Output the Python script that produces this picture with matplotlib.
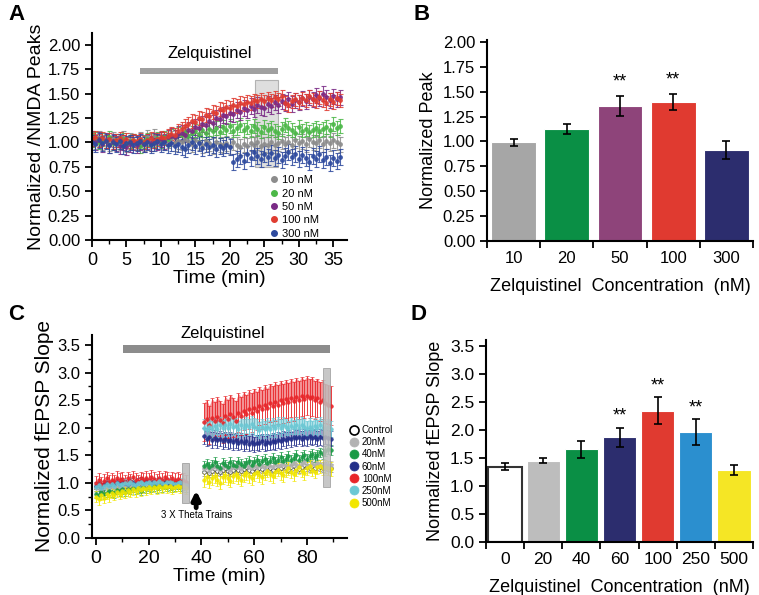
import matplotlib
matplotlib.use("Agg")
import matplotlib.pyplot as plt
import numpy as np
from matplotlib.lines import Line2D
from matplotlib.patches import Rectangle

plt.rcParams['font.family'] = ['Liberation Sans', 'DejaVu Sans']

# ---------------- data ----------------
# panel A: NMDA peaks every 0.5 min, 0..36 min
a_labels = ['10 nM', '20 nM', '50 nM', '100 nM', '300 nM']
a_10 = [1.03, 1.01, 1.04, 1.00, 1.02, 0.99, 1.03, 1.01, 1.00, 1.04, 0.98, 1.02, 1.01,
        1.00, 1.03, 0.99, 1.05, 1.02, 1.06, 1.01, 1.03, 1.00, 1.02, 1.04, 0.99, 1.01,
        1.00, 1.03, 1.01, 0.98, 1.02, 1.00, 0.97, 1.01, 0.99, 0.96, 1.00, 0.98, 0.97,
        0.99, 0.96, 1.00, 0.97, 0.95, 0.98, 0.96, 0.99, 0.97, 1.00, 0.96, 0.98, 0.97,
        1.00, 0.97, 0.99, 1.01, 0.98, 1.00, 0.97, 1.02, 0.99, 1.01, 0.98, 1.03, 1.00,
        0.99, 1.02, 0.98, 1.01, 0.99, 1.02, 1.00, 0.98]
a_20 = [1.02, 1.04, 1.00, 1.03, 1.01, 1.05, 0.99, 1.02, 1.00, 1.03, 0.98, 1.01, 1.02,
        0.99, 0.96, 1.01, 1.03, 0.98, 1.02, 1.04, 1.01, 1.05, 1.03, 1.07, 1.06, 1.09,
        1.08, 1.11, 1.07, 1.10, 1.12, 1.09, 1.13, 1.10, 1.14, 1.12, 1.15, 1.11, 1.16,
        1.13, 1.17, 1.12, 1.15, 1.18, 1.13, 1.16, 1.12, 1.17, 1.14, 1.11, 1.16, 1.13,
        1.15, 1.12, 1.10, 1.14, 1.18, 1.15, 1.13, 1.10, 1.16, 1.12, 1.14, 1.11, 1.13,
        1.15, 1.12, 1.14, 1.16, 1.13, 1.19, 1.15, 1.17]
a_50 = [1.04, 1.00, 1.03, 0.98, 1.02, 0.97, 1.01, 0.99, 0.96, 1.00, 0.95, 0.98, 1.00,
        0.97, 1.00, 0.98, 1.01, 0.99, 1.02, 1.00, 1.03, 1.01, 1.05, 1.07, 1.05, 1.09,
        1.10, 1.08, 1.13, 1.12, 1.16, 1.15, 1.19, 1.18, 1.22, 1.20, 1.25, 1.24, 1.28,
        1.27, 1.30, 1.29, 1.33, 1.31, 1.35, 1.33, 1.37, 1.34, 1.38, 1.36, 1.35, 1.39,
        1.37, 1.41, 1.38, 1.42, 1.40, 1.44, 1.39, 1.43, 1.41, 1.45, 1.42, 1.46, 1.44,
        1.48, 1.45, 1.50, 1.46, 1.43, 1.47, 1.44, 1.46]
a_100 = [1.03, 1.05, 1.02, 1.04, 1.01, 1.03, 1.00, 1.02, 1.04, 1.01, 1.03, 1.00, 1.02,
         1.01, 1.03, 1.00, 1.02, 1.04, 1.01, 1.03, 1.05, 1.04, 1.07, 1.09, 1.08, 1.12,
         1.14, 1.17, 1.19, 1.22, 1.21, 1.25, 1.24, 1.28, 1.27, 1.31, 1.30, 1.34, 1.33,
         1.36, 1.35, 1.38, 1.37, 1.40, 1.39, 1.41, 1.40, 1.43, 1.42, 1.44, 1.42, 1.45,
         1.43, 1.46, 1.44, 1.47, 1.40, 1.38, 1.42, 1.44, 1.41, 1.45, 1.43, 1.47, 1.44,
         1.42, 1.46, 1.43, 1.40, 1.44, 1.41, 1.45, 1.43]
a_300 = [1.00, 0.98, 1.02, 0.99, 1.01, 0.97, 1.00, 0.98, 1.01, 0.96, 0.99, 1.00, 0.97,
         0.99, 1.01, 0.98, 1.00, 0.97, 0.99, 1.01, 0.98, 1.00, 0.97, 0.99, 0.96, 0.98,
         0.95, 0.93, 0.97, 1.00, 0.96, 0.99, 0.94, 0.98, 0.95, 0.97, 0.93, 0.96, 0.94,
         0.97, 0.95, 0.80, 0.83, 0.86, 0.81, 0.88, 0.84, 0.90, 0.86, 0.83, 0.88, 0.85,
         0.89, 0.84, 0.87, 0.82, 0.86, 0.90, 0.85, 0.88, 0.83, 0.87, 0.84, 0.80, 0.86,
         0.83, 0.88, 0.82, 0.85, 0.79, 0.84, 0.81, 0.85]
a_sem = [0.08, 0.07, 0.08, 0.07, 0.08]
a_colors = ['#8c8c8c', '#4cb848', '#7a2a86', '#e03c31', '#2e4a9e']

# panel B
b_conc = ['10', '20', '50', '100', '300']
b_mean = [0.99, 1.13, 1.36, 1.40, 0.91]
b_err = [0.04, 0.05, 0.10, 0.08, 0.09]
b_sig = ['', '', '**', '**', '']
b_colors = ['#a6a6a6', '#0a8f45', '#8e447a', '#e03a30', '#2c2d6e']

# panel C: fEPSP slope, baseline 0..34 min and after theta trains 41..89 min
c_labels = ['Control', '20nM', '40nM', '60nM', '100nM', '250nM', '500nM']
c_pre = {
    'Control': [0.92, 0.95, 0.90, 0.94, 0.97, 0.93, 0.96, 0.94, 0.98, 0.95, 0.97, 0.99, 0.96, 1.00, 0.97,
                0.95, 0.98, 1.00, 0.96, 0.99, 1.01, 0.97, 1.00, 0.98, 1.02, 0.99, 0.97, 1.00, 1.01, 0.98,
                0.96, 0.99, 1.00, 0.97, 0.95],
    '20nM': [0.90, 0.93, 0.88, 0.92, 0.95, 0.91, 0.94, 0.92, 0.96, 0.93, 0.95, 0.97, 0.94, 0.98, 0.95,
             0.93, 0.97, 0.99, 0.95, 0.98, 1.00, 0.96, 0.99, 0.97, 1.01, 0.98, 0.96, 0.99, 1.00, 0.97,
             0.95, 0.98, 0.99, 0.96, 0.94],
    '40nM': [0.80, 0.78, 0.84, 0.79, 0.82, 0.86, 0.83, 0.81, 0.87, 0.85, 0.88, 0.84, 0.89, 0.87, 0.91,
             0.88, 0.90, 0.86, 0.92, 0.89, 0.93, 0.91, 0.94, 0.90, 0.95, 0.92, 0.96, 0.93, 0.95, 0.91,
             0.94, 0.96, 0.93, 0.95, 0.92],
    '60nM': [0.95, 0.98, 0.93, 0.97, 1.00, 0.96, 0.99, 0.97, 1.01, 0.98, 1.02, 1.00, 0.97, 1.03, 1.00,
             0.98, 1.02, 1.04, 1.00, 1.03, 1.01, 0.99, 1.03, 1.00, 1.02, 0.99, 1.01, 0.98, 1.00, 0.97,
             0.99, 1.01, 0.98, 0.96, 0.97],
    '100nM': [1.00, 1.05, 0.98, 1.04, 1.08, 1.02, 1.06, 1.03, 1.09, 1.05, 1.07, 1.02, 1.08, 1.04, 1.10,
              1.06, 1.03, 1.08, 1.05, 1.09, 1.06, 1.11, 1.07, 1.04, 1.09, 1.06, 1.10, 1.07, 1.03, 1.08,
              1.05, 1.07, 1.04, 1.06, 1.02],
    '250nM': [0.93, 0.96, 0.91, 0.95, 0.98, 0.94, 0.97, 0.95, 0.99, 0.96, 0.98, 1.00, 0.97, 1.01, 0.98,
              0.96, 0.99, 1.01, 0.97, 1.00, 1.02, 0.98, 1.01, 0.99, 1.03, 1.00, 0.98, 1.01, 1.02, 0.99,
              0.97, 1.00, 1.01, 0.98, 0.96],
    '500nM': [0.75, 0.70, 0.78, 0.73, 0.80, 0.76, 0.82, 0.78, 0.84, 0.80, 0.85, 0.82, 0.87, 0.84, 0.88,
              0.85, 0.90, 0.87, 0.91, 0.88, 0.92, 0.89, 0.93, 0.90, 0.94, 0.91, 0.95, 0.92, 0.94, 0.90,
              0.93, 0.95, 0.92, 0.94, 0.90],
}
c_post = {
    'Control': [1.20, 1.24, 1.18, 1.22, 1.25, 1.21, 1.19, 1.23, 1.26, 1.22, 1.20, 1.24, 1.27, 1.23, 1.21,
                1.25, 1.28, 1.24, 1.22, 1.26, 1.23, 1.27, 1.25, 1.22, 1.28, 1.26, 1.24, 1.29, 1.25, 1.27,
                1.30, 1.26, 1.24, 1.28, 1.31, 1.27, 1.25, 1.29, 1.32, 1.28, 1.26, 1.30, 1.27, 1.31, 1.29,
                1.26, 1.30, 1.28, 1.27],
    '20nM': [1.25, 1.28, 1.22, 1.27, 1.30, 1.26, 1.23, 1.28, 1.31, 1.27, 1.24, 1.29, 1.32, 1.28, 1.25,
             1.30, 1.33, 1.29, 1.26, 1.31, 1.28, 1.32, 1.30, 1.27, 1.33, 1.31, 1.29, 1.34, 1.30, 1.32,
             1.35, 1.31, 1.29, 1.33, 1.36, 1.32, 1.30, 1.34, 1.37, 1.33, 1.31, 1.35, 1.32, 1.36, 1.34,
             1.31, 1.35, 1.33, 1.32],
    '40nM': [1.30, 1.35, 1.28, 1.33, 1.38, 1.31, 1.27, 1.36, 1.32, 1.29, 1.37, 1.33, 1.30, 1.38, 1.34,
             1.31, 1.36, 1.40, 1.33, 1.37, 1.42, 1.35, 1.39, 1.44, 1.36, 1.40, 1.45, 1.38, 1.42, 1.47,
             1.39, 1.43, 1.48, 1.41, 1.45, 1.50, 1.42, 1.46, 1.51, 1.44, 1.48, 1.53, 1.47, 1.51, 1.55,
             1.52, 1.58, 1.62, 1.60],
    '60nM': [1.85, 1.80, 1.83, 1.78, 1.82, 1.77, 1.80, 1.76, 1.79, 1.75, 1.78, 1.74, 1.77, 1.73, 1.76,
             1.72, 1.75, 1.71, 1.74, 1.70, 1.73, 1.72, 1.75, 1.71, 1.74, 1.73, 1.76, 1.74, 1.78, 1.76,
             1.80, 1.78, 1.82, 1.79, 1.83, 1.81, 1.84, 1.80, 1.83, 1.81, 1.85, 1.82, 1.84, 1.80, 1.83,
             1.81, 1.84, 1.82, 1.80],
    '100nM': [2.10, 2.15, 2.05, 2.18, 2.12, 2.20, 2.14, 2.08, 2.22, 2.16, 2.25, 2.19, 2.13, 2.27, 2.21,
              2.30, 2.24, 2.33, 2.27, 2.36, 2.30, 2.39, 2.33, 2.42, 2.36, 2.45, 2.40, 2.47, 2.42, 2.50,
              2.44, 2.52, 2.46, 2.54, 2.48, 2.55, 2.50, 2.57, 2.52, 2.58, 2.53, 2.56, 2.50, 2.54, 2.47,
              2.51, 2.44, 2.42, 2.40],
    '250nM': [2.00, 1.95, 2.02, 1.97, 2.03, 1.98, 2.04, 1.99, 2.05, 2.00, 2.06, 2.01, 2.03, 1.98, 2.04,
              2.00, 2.05, 2.01, 2.06, 2.02, 2.00, 1.96, 2.01, 1.97, 2.02, 1.98, 2.03, 1.99, 2.04, 2.00,
              2.05, 2.01, 1.98, 2.03, 1.99, 2.04, 2.00, 2.05, 2.01, 1.97, 2.02, 1.98, 2.03, 1.99, 2.04,
              2.00, 1.97, 2.01, 1.98],
    '500nM': [1.05, 1.10, 1.02, 1.08, 1.12, 1.06, 1.00, 1.10, 1.14, 1.08, 1.04, 1.12, 1.16, 1.10, 1.06,
              1.14, 1.18, 1.12, 1.08, 1.16, 1.20, 1.14, 1.10, 1.18, 1.22, 1.16, 1.12, 1.20, 1.24, 1.18,
              1.14, 1.22, 1.26, 1.20, 1.16, 1.24, 1.28, 1.22, 1.18, 1.26, 1.30, 1.24, 1.20, 1.28, 1.30,
              1.26, 1.29, 1.27, 1.25],
}
c_sem_pre = [0.06, 0.06, 0.08, 0.06, 0.12, 0.07, 0.10]
c_sem_post = [0.07, 0.07, 0.09, 0.14, 0.35, 0.15, 0.12]
c_colors = ['white', '#b3b3b3', '#1a9a45', '#24308a', '#e8262a', '#6cc8d4', '#f2e600']

# panel D
d_conc = ['0', '20', '40', '60', '100', '250', '500']
d_mean = [1.34, 1.45, 1.65, 1.87, 2.34, 1.96, 1.29]
d_err = [0.06, 0.05, 0.15, 0.17, 0.24, 0.23, 0.09]
d_sig = ['', '', '', '**', '**', '**', '']
d_colors = ['white', '#bdbdbd', '#0a8f45', '#2c2d6e', '#e03a30', '#2b8fcf', '#f5e625']

W, H = 759, 595
fig = plt.figure(figsize=(W / 100, H / 100), dpi=100)


def px_axes(left, right, top, bottom):
    return fig.add_axes([left / W, (H - bottom) / H, (right - left) / W, (bottom - top) / H])


def style(ax, xsize, ysize):
    for s in ['top', 'right']:
        ax.spines[s].set_visible(False)
    for s in ['left', 'bottom']:
        ax.spines[s].set_linewidth(1.5)
    ax.tick_params(which='major', direction='out', length=5, width=1.3)
    ax.tick_params(which='minor', direction='out', length=3, width=1.0)
    ax.tick_params(axis='x', labelsize=xsize)
    ax.tick_params(axis='y', labelsize=ysize)


# ---------------- A ----------------
axA = px_axes(92, 347, 33, 240)
a_series = [a_10, a_20, a_50, a_100, a_300]
for vals, sem, col in zip(a_series, a_sem, a_colors):
    t = np.arange(len(vals)) * 0.5
    axA.errorbar(t, vals, yerr=sem, fmt='o', ms=2.5, color=col, ecolor=col,
                 elinewidth=0.8, capsize=1.8, capthick=0.8, alpha=0.85, zorder=2)
axA.add_patch(Rectangle((23.7, 0.75), 3.3, 0.89, facecolor='#d9d9d9', edgecolor='#a8a8a8',
                        lw=0.8, alpha=0.85, zorder=1))
axA.add_patch(Rectangle((7.0, 1.70), 20.0, 0.06, facecolor='#a0a0a0', edgecolor='none', clip_on=False))
axA.text(17.1, 1.83, 'Zelquistinel', ha='center', va='bottom', fontsize=12)
axA.set_xlim(0, 37)
axA.set_ylim(0, 2.12)
axA.set_xticks(np.arange(0, 36, 5))
axA.set_xticks(np.arange(2.5, 37, 5), minor=True)
axA.set_yticks(np.arange(0, 2.01, 0.25))
axA.yaxis.set_major_formatter(matplotlib.ticker.FormatStrFormatter('%.2f'))
axA.set_xlabel('Time (min)', fontsize=14, labelpad=1)
axA.set_ylabel('Normalized /NMDA Peaks', fontsize=14, labelpad=2)
style(axA, 13, 12)
a_handles = [Line2D([], [], ls='none', marker='o', ms=4, mfc=c, mec=c) for c in a_colors]
axA.legend(a_handles, a_labels, loc='lower left', bbox_to_anchor=(0.67, -0.02), frameon=False,
           fontsize=8, handletextpad=0.2, labelspacing=0.3, borderpad=0, handlelength=1.0)

# ---------------- B ----------------
axB = px_axes(487, 753, 40, 241)
xb = np.arange(len(b_conc))
axB.bar(xb, b_mean, width=0.84, color=b_colors, edgecolor='white', lw=0.8)
axB.errorbar(xb, b_mean, yerr=b_err, fmt='none', ecolor='black', elinewidth=1.2, capsize=3, capthick=1.2)
for x, m, e, s in zip(xb, b_mean, b_err, b_sig):
    if s:
        axB.text(x, m + e + 0.05, s, ha='center', va='bottom', fontsize=13)
axB.set_xlim(-0.5, len(b_conc) - 0.5)
axB.set_ylim(0, 2.02)
axB.set_yticks(np.arange(0, 2.01, 0.25))
axB.yaxis.set_major_formatter(matplotlib.ticker.FormatStrFormatter('%.2f'))
axB.set_xticks(xb)
axB.set_xticklabels(b_conc)
axB.set_xticks(np.arange(-0.5, len(b_conc), 1), minor=True)
style(axB, 12, 12)
axB.tick_params(axis='x', which='major', length=0, pad=7)
axB.tick_params(axis='x', which='minor', length=5, width=1.3)
axB.set_ylabel('Normalized Peak', fontsize=13)
axB.set_xlabel('Zelquistinel  Concentration  (nM)', fontsize=13, labelpad=9)

# ---------------- C ----------------
axC = px_axes(92, 347, 335, 538)
fill_alpha = {'60nM': 0.45, '100nM': 0.5, '250nM': 0.55}
for lab, col, sp, sq in zip(c_labels, c_colors, c_sem_pre, c_sem_post):
    pre = np.array(c_pre[lab])
    post = np.array(c_post[lab])
    tpre = np.arange(len(pre))
    tpost = 41 + np.arange(len(post))
    if lab in fill_alpha:
        axC.fill_between(tpost, post, post + sq, color=col, alpha=fill_alpha[lab], lw=0, zorder=1)
    ec = '#333333' if lab == 'Control' else col
    ecol = '#777777' if lab == 'Control' else col
    for t, v, e in [(tpre, pre, sp), (tpost, post, sq)]:
        axC.errorbar(t, v, yerr=e, fmt='o', ms=2.6, mfc=col, mec=ec, mew=0.5, ecolor=ecol,
                     elinewidth=0.7, capsize=1.5, capthick=0.7, alpha=0.9, zorder=2)
axC.add_patch(Rectangle((32.5, 0.64), 2.7, 0.72, facecolor='#bdbdbd', edgecolor='#9a9a9a',
                        lw=0.6, alpha=0.9, zorder=3))
axC.add_patch(Rectangle((86.0, 0.93), 2.7, 2.16, facecolor='#bdbdbd', edgecolor='#9a9a9a',
                        lw=0.6, alpha=0.85, zorder=3))
axC.add_patch(Rectangle((10.2, 3.36), 78.4, 0.14, facecolor='#8c8c8c', edgecolor='none', clip_on=False))
axC.text(48, 3.58, 'Zelquistinel', ha='center', va='bottom', fontsize=12)
axC.annotate('', xy=(38, 0.86), xytext=(38, 0.55),
             arrowprops=dict(arrowstyle='-|>', color='black', lw=3.5, mutation_scale=12,
                             shrinkA=0, shrinkB=0))
axC.text(38, 0.42, '3 X Theta Trains', ha='center', va='center', fontsize=7)
axC.set_xlim(-1.5, 95.2)
axC.set_ylim(0, 3.68)
axC.set_xticks([0, 20, 40, 60, 80])
axC.set_xticks([10, 30, 50, 70, 90], minor=True)
axC.set_yticks(np.arange(0, 3.51, 0.5))
axC.set_yticks(np.arange(0.25, 3.6, 0.5), minor=True)
axC.set_xlabel('Time (min)', fontsize=14, labelpad=1)
axC.set_ylabel('Normalized fEPSP Slope', fontsize=15, labelpad=2)
style(axC, 14, 12)
c_handles = [Line2D([], [], ls='none', marker='o', ms=6.5, mfc=c, mec='black' if c == 'white' else c,
                    mew=1.2 if c == 'white' else 0.5) for c in c_colors]
axC.legend(c_handles, c_labels, loc='upper left', bbox_to_anchor=(0.99, 0.58), frameon=False,
           fontsize=7, handletextpad=0.3, labelspacing=0.22, borderpad=0, handlelength=1.0)

# ---------------- D ----------------
axD = px_axes(486, 753, 340, 542)
xd = np.arange(len(d_conc))
axD.bar(xd, d_mean, width=0.87, color=d_colors,
        edgecolor=['#333333'] + ['white'] * (len(d_conc) - 1), lw=[1.5] + [0.8] * (len(d_conc) - 1))
axD.errorbar(xd, d_mean, yerr=d_err, fmt='none', ecolor='black', elinewidth=1.2, capsize=3, capthick=1.2)
for x, m, e, s in zip(xd, d_mean, d_err, d_sig):
    if s:
        axD.text(x, m + e + 0.05, s, ha='center', va='bottom', fontsize=13)
axD.set_xlim(-0.5, len(d_conc) - 0.5)
axD.set_ylim(0, 3.6)
axD.set_yticks(np.arange(0, 3.51, 0.5))
axD.set_xticks(xd)
axD.set_xticklabels(d_conc)
axD.set_xticks(np.arange(-0.5, len(d_conc), 1), minor=True)
style(axD, 12.5, 12.5)
axD.tick_params(axis='x', which='major', length=0, pad=7)
axD.tick_params(axis='x', which='minor', length=5, width=1.3)
axD.set_ylabel('Normalized fEPSP Slope', fontsize=13)
axD.set_xlabel('Zelquistinel  Concentration  (nM)', fontsize=13, labelpad=9)

# panel letters
for x, y, s in [(8, 4, 'A'), (414, 4, 'B'), (8, 304, 'C'), (410, 304, 'D')]:
    fig.text(x / W, 1 - y / H, s, fontsize=16, fontweight='bold', va='top', ha='left')

fig.savefig('out.png', dpi=100)
